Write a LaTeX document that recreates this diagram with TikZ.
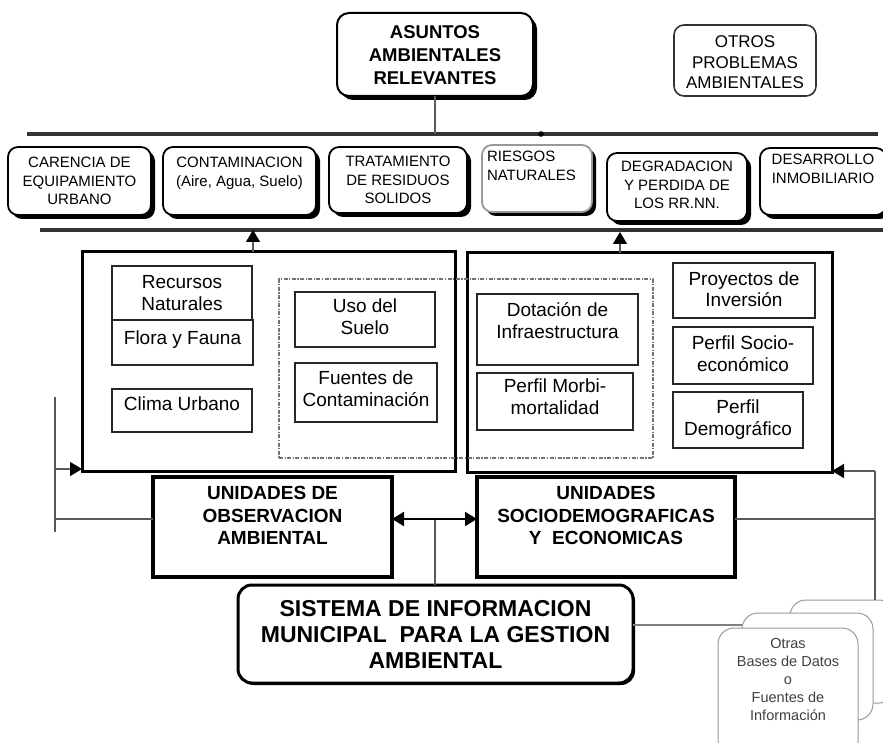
\documentclass[tikz,border=0pt]{standalone}
\usepackage{fontspec}
\setmainfont{Liberation Sans}
\usetikzlibrary{arrows.meta,shadows,calc}

% fixed-size box with top-aligned, centred lines: width, height, top gap, text
\newcommand{\tbx}[4]{\parbox[c][#2pt][t]{#1pt}{\centering\vspace*{#3pt}\strut#4}}
% same, but left-aligned with a small indent
\newcommand{\tbl}[4]{\parbox[c][#2pt][t]{#1pt}{\raggedright\leftskip=5pt\vspace*{#3pt}\strut#4}}

\tikzset{
  every node/.style={inner sep=0pt, outer sep=0pt, anchor=north west},
  blackshadow/.style={drop shadow={shadow xshift=4pt, shadow yshift=-4pt, opacity=1, fill=black}},
  topic/.style={draw=black, line width=1.8pt, rounded corners=10pt, fill=white, blackshadow,
                font=\fontsize{15}{18.5}\selectfont},
  headbox/.style={draw=black, line width=2pt, rounded corners=12pt, fill=white, blackshadow,
                  font=\bfseries\fontsize{18.5}{23}\selectfont},
  otherbox/.style={draw=black!80, line width=1.6pt, rounded corners=10pt, fill=white,
                   font=\fontsize{17}{20.5}\selectfont},
  frame/.style={draw=black, line width=3pt},
  dashframe/.style={draw=black!55, line width=1.5pt, dash pattern=on 4pt off 1.5pt on 1.2pt off 1.5pt},
  item/.style={draw=black!85, line width=1.6pt, fill=white, font=\fontsize{19}{22}\selectfont},
  unit/.style={draw=black, line width=3.5pt, fill=white, font=\bfseries\fontsize{19}{22.5}\selectfont},
  sysbox/.style={draw=black, line width=3pt, rounded corners=14pt, fill=white,
                 drop shadow={shadow xshift=2pt, shadow yshift=-2pt, opacity=1, fill=black},
                 font=\bfseries\fontsize{23}{26}\selectfont},
  card/.style={draw=black!40, line width=1pt, rounded corners=16pt, fill=white,
               text=black!75, font=\fontsize{14.5}{18}\selectfont},
  bus/.style={draw=black!80, line width=3.2pt},
  conn/.style={draw=black!65, line width=1.3pt},
  tip/.style={-{Triangle[width=14pt,length=12pt,color=black,fill=black]}},
}

\begin{document}
\begin{tikzpicture}[x=1pt, y=-1pt]
\useasboundingbox (0,0) rectangle (883,743);
\fill[white] (0,0) rectangle (883,743);

% ---- heading and side note
\node[headbox] (asuntos) at (337,13) {\tbx{196}{83}{9}{ASUNTOS\\AMBIENTALES\\RELEVANTES}};
\node[otherbox] (otros) at (674,25) {\tbx{142}{71}{8.6}{OTROS\\PROBLEMAS\\AMBIENTALES}};

% ---- the two bus lines
\coordinate (busTL) at (27,134);
\coordinate (busTR) at (878,134);
\coordinate (busBL) at (40,230);
\coordinate (busBR) at (883,230);
\coordinate (busdot) at (541,134);
\draw[bus] (busTL) -- (busTR);
\draw[bus] (busBL) -- (busBR);
\fill[black] (busdot) circle (2.8pt);
\draw[conn] (asuntos.south) -- (asuntos.south |- busTL);

% ---- row of environmental issues
\node[topic] (carencia) at (8,147) {\tbx{143}{68}{8}{CARENCIA DE\\EQUIPAMIENTO\\URBANO}};
\node[topic] (contam) at (163,147) {\tbx{153}{68}{8}{CONTAMINACION\\(Aire, Agua, Suelo)}};
\node[topic] (tratam) at (329,147) {\tbx{138}{66}{7}{TRATAMIENTO\\DE RESIDUOS\\SOLIDOS}};
\node[topic, draw=black!40] (riesgos) at (482,145) {\tbl{110}{67}{4}{RIESGOS\\NATURALES}};
\node[topic] (degrad) at (607,153) {\tbx{140}{68}{6}{DEGRADACION\\Y PERDIDA DE\\LOS RR.NN.}};
\node[topic] (desarr) at (760,148) {\tbx{126}{67}{4}{DESARROLLO\\INMOBILIARIO}};

% ---- the two observation groups
\node[frame] (bigL) at (82,252) {\tbx{373}{219}{0}{}};
\node[frame] (bigR) at (467,253) {\tbx{365}{219}{0}{}};
\node[dashframe] (shared) at (279,279) {\tbx{374}{179}{0}{}};

\node[item] (recursos) at (112,266) {\tbx{140}{54}{6.6}{Recursos\\Naturales}};
\node[item] (flora) at (112,320) {\tbx{141}{45}{8.6}{Flora y Fauna}};
\node[item] (clima) at (112,389) {\tbx{140}{43}{5.6}{Clima Urbano}};
\node[item] (uso) at (295,292) {\tbx{140}{55}{5.6}{Uso del\\Suelo}};
\node[item] (fuentes) at (295,363) {\tbx{142}{59}{5.6}{Fuentes de\\Contaminación}};
\node[item] (dotacion) at (477,294) {\tbx{161}{71}{6.6}{Dotación de\\Infraestructura}};
\node[item] (morbi) at (477,373) {\tbx{156}{57}{3.6}{Perfil Morbi-\\mortalidad}};
\node[item] (proyectos) at (673,263) {\tbx{142}{55}{6.6}{Proyectos de\\Inversión}};
\node[item] (socio) at (673,327) {\tbx{140}{57}{6.6}{Perfil Socio-\\económico}};
\node[item] (demo) at (673,392) {\tbx{130}{56}{5.6}{Perfil\\Demográfico}};

% arrows from the groups up to the issues bus
\coordinate (upL) at (253,230);
\coordinate (upR) at (620,232);
\draw[conn, tip] (upL |- bigL.north) -- (upL);
\draw[conn, tip] (upR |- bigR.north) -- (upR);

% ---- observation units
\node[unit] (uobs) at (153,477) {\tbx{239}{100}{7}{UNIDADES DE\\OBSERVACION\\AMBIENTAL}};
\node[unit] (usoc) at (477,477) {\tbx{258}{100}{7}{UNIDADES\\SOCIODEMOGRAFICAS\\Y\ \ ECONOMICAS}};

% ---- information system
\node[sysbox] (sistema) at (238,585) {\tbx{395}{98}{12.8}{SISTEMA DE INFORMACION\\MUNICIPAL\ \ PARA LA GESTION\\AMBIENTAL}};

% ---- stack of other data sources
\node[card] (cardC) at (790,600) {\tbx{105}{103}{0}{}};
\node[card] (cardB) at (742,613) {\tbx{131}{107}{0}{}};
\node[card] (cardA) at (718,628) {\tbx{140}{130}{7.4}{Otras\\Bases de Datos\\o\\Fuentes de\\Información}};

% ---- connectors
\coordinate (hub) at (435,519);
\coordinate (lTop) at (55,397);
\coordinate (lBot) at (55,532);
\coordinate (lArr) at (55,469);
\coordinate (rTop) at (875,471);

\draw[conn] (lTop) -- (lBot);
\draw[conn, tip] (lArr) -- (lArr -| bigL.west);
\draw[conn] (hub -| lTop) -- (hub -| uobs.west);

\draw[conn] (sistema.north -| hub) -- (hub);
\draw[conn, line width=2pt, tip, draw=black] (hub) -- (hub -| uobs.east);
\draw[conn, line width=2pt, tip, draw=black] (hub) -- (hub -| usoc.west);

\draw[conn] (cardC.north -| rTop) -- (rTop);
\draw[conn, tip] (rTop) -- (rTop -| bigR.east);
\draw[conn] (hub -| usoc.east) -- (hub -| rTop);

\draw[conn, draw=black!50] ([yshift=9pt]sistema.east) -- ([yshift=9pt]sistema.east -| cardB.west);
\end{tikzpicture}
\end{document}
